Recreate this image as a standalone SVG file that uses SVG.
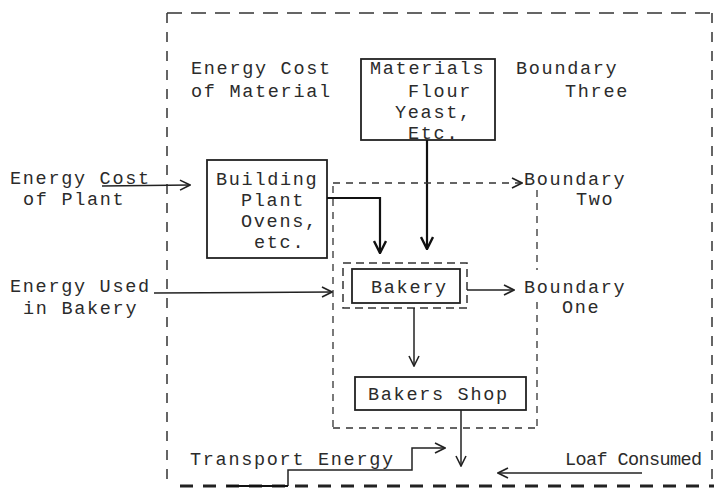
<svg xmlns="http://www.w3.org/2000/svg" width="714" height="488" viewBox="0 0 714 488">
<defs>
<style>
text{font-family:"Liberation Mono","DejaVu Sans Mono",monospace;font-size:18.5px;letter-spacing:1.7px;fill:#2b2b2b}
.box{fill:none;stroke:#222;stroke-width:1.8}
.b3{fill:none;stroke:#333;stroke-width:1.5;stroke-dasharray:15 9}
.b3v{fill:none;stroke:#333;stroke-width:1.5;stroke-dasharray:10 9}
.b3b{fill:none;stroke:#222;stroke-width:3;stroke-dasharray:13 10}
.b2{fill:none;stroke:#333;stroke-width:1.3;stroke-dasharray:7 6}
.b1{fill:none;stroke:#333;stroke-width:1.5;stroke-dasharray:8 5}
.ln{fill:none;stroke:#222;stroke-width:1.5}
.lnb{fill:none;stroke:#111;stroke-width:2.2}
</style>
<marker id="ah" viewBox="0 0 12 12" refX="11" refY="6" markerWidth="12" markerHeight="12" orient="auto" markerUnits="userSpaceOnUse">
<path d="M1,1 L11,6 L1,11" fill="none" stroke="#222" stroke-width="1.6"/>
</marker>
<marker id="ahb" viewBox="0 0 14 14" refX="13" refY="7" markerWidth="14" markerHeight="14" orient="auto" markerUnits="userSpaceOnUse">
<path d="M1,1 L13,7 L1,13" fill="none" stroke="#111" stroke-width="2.4"/>
</marker>
</defs>
<rect width="714" height="488" fill="#fff"/>

<g id="boundary-three">
<line class="b3" x1="167" y1="13" x2="712" y2="13"/>
<line class="b3v" x1="167" y1="13" x2="167" y2="484"/>
<line class="b3v" x1="712" y1="13" x2="712" y2="484"/>
<line class="b3b" x1="180" y1="486" x2="714" y2="486"/>
</g>

<g id="boundary-two">
<line class="b2" x1="333" y1="186" x2="333" y2="428"/>
<line class="b2" x1="333" y1="428" x2="537" y2="428"/>
<line class="b2" x1="537" y1="190" x2="537" y2="270"/>
<line class="b2" x1="537" y1="302" x2="537" y2="428"/>
</g>

<g id="boundary-one">
<rect class="b1" x="343" y="263" width="124" height="45"/>
</g>

<g id="materials">
<rect class="box" x="361" y="59" width="134" height="81"/>
<text x="370" y="74">Materials</text>
<text x="408" y="97">Flour</text>
<text x="395" y="118">Yeast,</text>
<text x="408" y="139">Etc.</text>
</g>

<g id="building">
<rect class="box" x="207" y="160" width="120" height="98"/>
<text x="216" y="185">Building</text>
<text x="241" y="206">Plant</text>
<text x="241" y="227">Ovens,</text>
<text x="254" y="248">etc.</text>
</g>

<g id="bakery">
<rect class="box" x="352" y="269" width="108" height="34" stroke-width="2.2"/>
<text x="371" y="293">Bakery</text>
</g>

<g id="bakers-shop">
<rect class="box" x="355" y="377" width="171" height="33"/>
<text x="368" y="400">Bakers Shop</text>
</g>

<g id="label-energy-material">
<text x="191" y="74">Energy Cost</text>
<text x="191" y="97">of Material</text>
</g>
<g id="label-boundary-three">
<text x="516" y="74">Boundary</text>
<text x="565" y="97">Three</text>
</g>
<g id="label-boundary-two">
<text x="524" y="185">Boundary</text>
<text x="576" y="205">Two</text>
</g>
<g id="label-boundary-one">
<text x="524" y="293">Boundary</text>
<text x="562" y="313">One</text>
</g>
<g id="label-energy-plant">
<text x="10" y="184">Energy Cost</text>
<text x="23" y="205">of Plant</text>
</g>
<g id="label-energy-bakery">
<text x="10" y="292">Energy Used</text>
<text x="23" y="314">in Bakery</text>
</g>
<g id="label-transport">
<text x="190" y="465">Transport Energy</text>
</g>
<g id="label-loaf">
<text x="565" y="465" style="letter-spacing:-0.6px">Loaf Consumed</text>
</g>

<g id="connectors">
<path class="ln" d="M102,186 L190,185" marker-end="url(#ah)"/>
<path class="ln" d="M154,293 L332,292" marker-end="url(#ah)"/>
<path class="lnb" d="M327,198 H380 V253" marker-end="url(#ahb)"/>
<path class="lnb" d="M427,140 V249" marker-end="url(#ahb)"/>
<path class="ln" d="M467,290 H514" marker-end="url(#ah)"/>
<path class="ln" d="M414,308 V366" marker-end="url(#ah)"/>
<path class="ln" d="M461,410 V466" marker-end="url(#ah)"/>
<path class="ln" d="M288,486 V470 H412 V448 H445" marker-end="url(#ah)"/>
<path class="lnb" d="M227,486 H288" stroke-width="3"/>
<path class="ln" d="M642,473 H498" marker-end="url(#ah)"/>
<path class="b2" d="M333,183 H522" marker-end="url(#ah)"/>
</g>
</svg>
